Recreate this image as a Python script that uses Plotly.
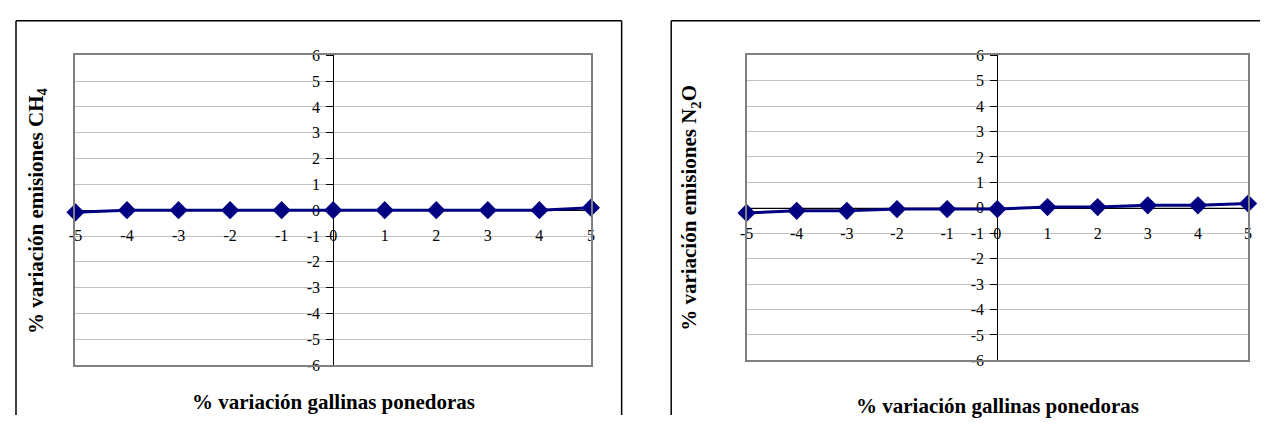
import plotly.graph_objects as go

x_vals = [-5, -4, -3, -2, -1, 0, 1, 2, 3, 4, 5]
ch4_vals = [-0.08, 0, 0, 0, 0, 0, 0, 0, 0, 0, 0.1]
n2o_vals = [-0.2, -0.12, -0.12, -0.05, -0.05, -0.05, 0.03, 0.03, 0.1, 0.1, 0.17]
y_ticks = [-6, -5, -4, -3, -2, -1, 0, 1, 2, 3, 4, 5, 6]
x_ticks = [-5, -4, -3, -2, -1, 0, 1, 2, 3, 4, 5]
x_title = "% variación gallinas ponedoras"
y_titles = ["% variación emisiones CH<sub>4</sub>", "% variación emisiones N<sub>2</sub>O"]

# the page keeps the browser's default 8px body margin, so the figure is
# sized to fit the 1272x432 window exactly and positions are page px - 8
OFF = 8
W, H = 1272 - 2 * OFF, 432 - 2 * OFF
FONT = "Liberation Serif"
NAVY = "#000080"


def px(x):
    return (x - OFF) / W


def py(y):
    return 1 - (y - OFF) / H


# plot areas in page pixels: (left, right, top, bottom)
areas = [(69, 589, 49, 372), (746, 1252, 49, 367)]
outer = [(9, 620), (670, None)]
box_top = 13
xtitle_y = [410, 415]
ytitle_x = [30, 689]

fig = go.Figure()
layout = dict(
    width=W, height=H,
    margin=dict(l=0, r=0, t=0, b=0),
    paper_bgcolor="white", plot_bgcolor="white",
    showlegend=False,
    font=dict(family=FONT, size=16, color="black"),
)
shapes = []
annotations = []
series = [ch4_vals, n2o_vals]

for i, (l, r, t, b) in enumerate(areas):
    xd = [px(l), px(r)]
    yd = [py(b), py(t)]
    n = i * 2 + 1
    xa = "xaxis" if n == 1 else f"xaxis{n}"
    ya = "yaxis" if n == 1 else f"yaxis{n}"
    xref = "x" if n == 1 else f"x{n}"
    yref = "y" if n == 1 else f"y{n}"
    xa2, ya2 = f"xaxis{n+1}", f"yaxis{n+1}"
    xref2, yref2 = f"x{n+1}", f"y{n+1}"

    # frame + gridlines
    fig.add_trace(go.Scatter(x=[None], y=[None], xaxis=xref, yaxis=yref,
                             mode="markers", hoverinfo="skip"))
    layout[xa] = dict(domain=xd, anchor=yref, range=[-5, 5], showgrid=False,
                      zeroline=False, showticklabels=False, ticks="",
                      showline=True, mirror=True, linecolor="#808080", linewidth=2)
    layout[ya] = dict(domain=yd, anchor=xref, range=[-6, 6], dtick=1, tick0=0,
                      showgrid=True, gridcolor="#c0c0c0", gridwidth=1,
                      zeroline=False, showticklabels=False, ticks="",
                      showline=True, mirror=True, linecolor="#808080", linewidth=2)
    # axes crossing at zero, carrying the data
    layout[xa2] = dict(overlaying=xref, anchor="free", position=(yd[0] + yd[1]) / 2,
                       range=[-5, 5], tickvals=x_ticks, ticktext=[str(v) for v in x_ticks],
                       showgrid=False, zeroline=False, showline=True, linecolor="black",
                       linewidth=1, ticks="outside", ticklen=5, tickcolor="black",
                       ticklabelstandoff=6, side="bottom", layer="below traces",
                       tickfont=dict(family=FONT, size=16, color="black"))
    layout[ya2] = dict(overlaying=yref, anchor="free", position=(xd[0] + xd[1]) / 2,
                       range=[-6, 6], tickvals=y_ticks, ticktext=[str(v) for v in y_ticks],
                       showgrid=False, zeroline=False, showline=True, linecolor="black",
                       linewidth=1, ticks="outside", ticklen=7, tickcolor="black",
                       ticklabelstandoff=3, side="left", layer="below traces",
                       tickfont=dict(family=FONT, size=16, color="black"))
    fig.add_trace(go.Scatter(
        x=x_vals, y=series[i], xaxis=xref2, yaxis=yref2,
        mode="lines+markers",
        line=dict(color=NAVY, width=3),
        marker=dict(symbol="diamond", size=14, color=NAVY),
        cliponaxis=False,
    ))

    ox0, ox1 = outer[i]
    ytop = py(box_top)
    shapes.append(dict(type="line", xref="paper", yref="paper",
                       x0=px(ox0), x1=1 if ox1 is None else px(ox1), y0=ytop, y1=ytop,
                       line=dict(color="black", width=1.5), layer="below"))
    shapes.append(dict(type="line", xref="paper", yref="paper",
                       x0=px(ox0), x1=px(ox0), y0=0, y1=ytop,
                       line=dict(color="black", width=1.5), layer="below"))
    if ox1 is not None:
        shapes.append(dict(type="line", xref="paper", yref="paper",
                           x0=px(ox1), x1=px(ox1), y0=0, y1=ytop,
                           line=dict(color="black", width=1.5), layer="below"))
    annotations.append(dict(text=f"<b>{x_title}</b>", xref="paper", yref="paper",
                            x=(xd[0] + xd[1]) / 2, y=py(xtitle_y[i]),
                            showarrow=False, xanchor="center", yanchor="middle",
                            font=dict(family=FONT, size=21, color="black")))
    annotations.append(dict(text=f"<b>{y_titles[i]}</b>", xref="paper", yref="paper",
                            x=px(ytitle_x[i]), y=(yd[0] + yd[1]) / 2,
                            showarrow=False, textangle=-90, xanchor="center", yanchor="middle",
                            font=dict(family=FONT, size=21, color="black")))

layout["shapes"] = shapes
layout["annotations"] = annotations
fig.update_layout(**layout)
fig.write_html("out.html", config={"displayModeBar": False})
